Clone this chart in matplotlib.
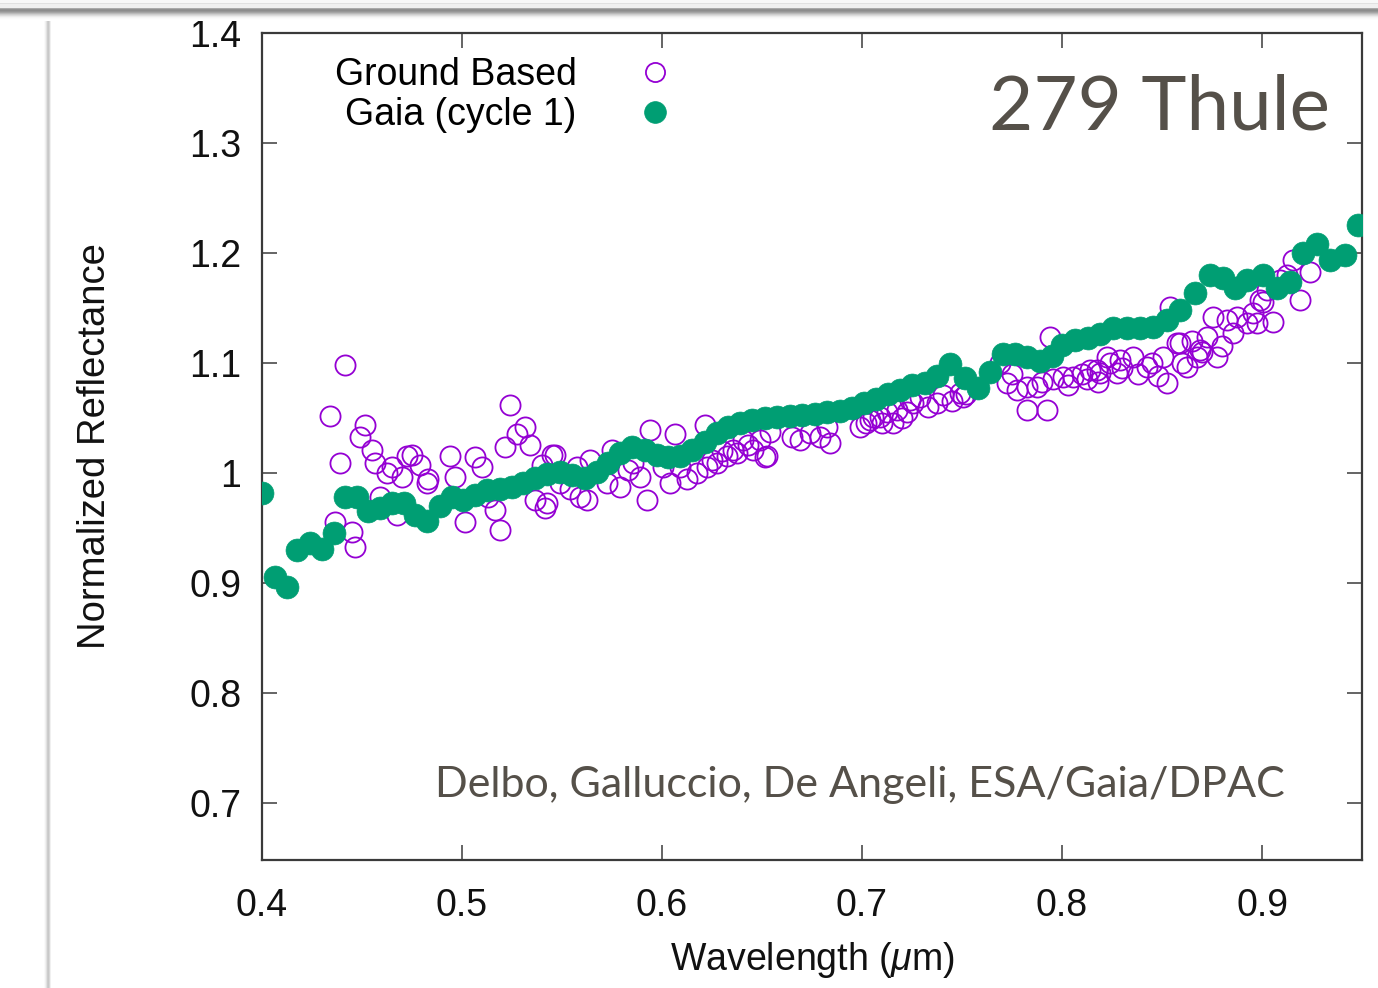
import numpy as np
import matplotlib
matplotlib.use('Agg')
import matplotlib.pyplot as plt

plt.rcParams['font.family'] = ['Liberation Sans', 'DejaVu Sans']
plt.rcParams['mathtext.fontset'] = 'custom'
plt.rcParams['mathtext.it'] = 'Liberation Sans:italic'
plt.rcParams['mathtext.rm'] = 'Liberation Sans'

## Gaia (cycle 1) reflectance
gaia_wl = [0.400, 0.4065, 0.4125, 0.4175, 0.424, 0.430, 0.436, 0.4415, 0.4475, 0.453,
           0.459, 0.465, 0.471, 0.4765, 0.4825, 0.489, 0.495, 0.5005, 0.5065, 0.5125,
           0.519, 0.525, 0.5305, 0.5365, 0.5425, 0.549, 0.555, 0.5615, 0.5675, 0.573,
           0.579, 0.585, 0.5915, 0.5975, 0.603, 0.609, 0.615, 0.6215, 0.6275, 0.633,
           0.639, 0.645, 0.6515, 0.6575, 0.664, 0.670, 0.6765, 0.6825, 0.689, 0.695,
           0.701, 0.707, 0.713, 0.719, 0.725, 0.7315, 0.7375, 0.744, 0.7515, 0.758,
           0.764, 0.7705, 0.7765, 0.7825, 0.789, 0.795, 0.800, 0.8065, 0.813, 0.819,
           0.8255, 0.8325, 0.839, 0.8455, 0.8525, 0.859, 0.8665, 0.874, 0.8805, 0.8865,
           0.8925, 0.9005, 0.9075, 0.914, 0.9205, 0.9275, 0.934, 0.9415, 0.948]
gaia_refl = [0.982, 0.905, 0.896, 0.930, 0.936, 0.931, 0.945, 0.978, 0.978, 0.965,
             0.968, 0.973, 0.973, 0.962, 0.956, 0.970, 0.978, 0.975, 0.980, 0.984,
             0.985, 0.987, 0.991, 0.995, 0.999, 1.001, 0.998, 0.995, 1.001, 1.009,
             1.018, 1.024, 1.021, 1.016, 1.014, 1.015, 1.021, 1.028, 1.036, 1.042,
             1.045, 1.048, 1.050, 1.051, 1.052, 1.053, 1.054, 1.055, 1.056, 1.059,
             1.064, 1.067, 1.072, 1.075, 1.080, 1.082, 1.088, 1.099, 1.086, 1.077,
             1.092, 1.108, 1.108, 1.105, 1.102, 1.106, 1.116, 1.121, 1.123, 1.126,
             1.132, 1.132, 1.132, 1.133, 1.139, 1.148, 1.164, 1.180, 1.177, 1.168,
             1.175, 1.180, 1.168, 1.174, 1.200, 1.208, 1.194, 1.198, 1.225]

## Ground based spectrum
ground_wl = [0.434, 0.4365, 0.439, 0.4415, 0.445, 0.4465, 0.449, 0.4515, 0.455, 0.4565,
             0.459, 0.4625, 0.465, 0.4675, 0.470, 0.4725, 0.475, 0.479, 0.4825, 0.483,
             0.494, 0.4965, 0.5015, 0.5065, 0.510, 0.513, 0.5165, 0.519, 0.5215, 0.524,
             0.5275, 0.5315, 0.534, 0.5365, 0.540, 0.5415, 0.5425, 0.545, 0.5465, 0.549,
             0.554, 0.5575, 0.559, 0.5625, 0.564, 0.5725, 0.575, 0.579, 0.583, 0.5855,
             0.589, 0.5925, 0.594, 0.6005, 0.604, 0.6065, 0.609, 0.6125, 0.6175, 0.6215,
             0.6225, 0.625, 0.6275, 0.630, 0.6325, 0.6355, 0.6375, 0.6405, 0.643, 0.6455,
             0.649, 0.6515, 0.6525, 0.654, 0.665, 0.669, 0.674, 0.679, 0.6825, 0.684,
             0.699, 0.702, 0.704, 0.7055, 0.709, 0.710, 0.7125, 0.7155, 0.7175, 0.720,
             0.7225, 0.724, 0.7255, 0.729, 0.733, 0.7375, 0.7405, 0.745, 0.749, 0.7505,
             0.752, 0.769, 0.7725, 0.775, 0.7775, 0.7825, 0.7825, 0.7875, 0.790, 0.7925,
             0.794, 0.7955, 0.8005, 0.803, 0.8055, 0.810, 0.8125, 0.814, 0.8175, 0.818,
             0.819, 0.8225, 0.824, 0.8275, 0.829, 0.830, 0.8355, 0.838, 0.8425, 0.845,
             0.848, 0.8505, 0.8525, 0.854, 0.8575, 0.859, 0.860, 0.8625, 0.865, 0.8675,
             0.869, 0.870, 0.8725, 0.8755, 0.8775, 0.880, 0.8825, 0.8855, 0.8875, 0.8925,
             0.8955, 0.8975, 0.899, 0.9005, 0.9025, 0.9055, 0.909, 0.9125, 0.9155, 0.919,
             0.924]
ground_refl = [1.052, 0.955, 1.009, 1.098, 0.946, 0.933, 1.033, 1.044, 1.021, 1.009,
               0.978, 1.000, 1.005, 0.962, 0.996, 1.015, 1.016, 1.007, 0.991, 0.994,
               1.015, 0.996, 0.955, 1.014, 1.005, 0.978, 0.966, 0.948, 1.024, 1.062,
               1.035, 1.042, 1.025, 0.975, 1.007, 0.968, 0.973, 1.016, 1.016, 0.991,
               0.985, 1.005, 0.978, 0.975, 1.012, 0.991, 1.021, 0.987, 1.003, 1.009,
               0.996, 0.975, 1.039, 1.005, 0.991, 1.035, 1.005, 0.994, 1.000, 1.044,
               1.005, 1.012, 1.009, 1.020, 1.015, 1.021, 1.018, 1.030, 1.025, 1.021,
               1.030, 1.014, 1.015, 1.037, 1.033, 1.030, 1.036, 1.033, 1.042, 1.027,
               1.042, 1.045, 1.048, 1.051, 1.051, 1.045, 1.055, 1.045, 1.057, 1.050,
               1.055, 1.066, 1.064, 1.069, 1.060, 1.064, 1.071, 1.065, 1.073, 1.069,
               1.072, 1.100, 1.082, 1.090, 1.075, 1.078, 1.057, 1.078, 1.083, 1.057,
               1.124, 1.085, 1.087, 1.080, 1.087, 1.090, 1.085, 1.094, 1.094, 1.083,
               1.091, 1.105, 1.100, 1.091, 1.103, 1.095, 1.105, 1.090, 1.096, 1.100,
               1.088, 1.105, 1.082, 1.151, 1.118, 1.118, 1.100, 1.096, 1.120, 1.105,
               1.112, 1.110, 1.124, 1.142, 1.105, 1.115, 1.139, 1.127, 1.142, 1.136,
               1.145, 1.136, 1.157, 1.155, 1.166, 1.137, 1.175, 1.180, 1.194, 1.157,
               1.183]

purple = '#9400d3'
green = '#009e73'
note_grey = '#555049'

W, H = 1378, 988
fig = plt.figure(figsize=(W / 100, H / 100), dpi=100)
fig.patch.set_facecolor('white')

ax = fig.add_axes([262 / W, 1 - 860 / H, 1100 / W, 827 / H])

ax.plot(ground_wl, ground_refl, linestyle='none', marker='o', ms=14.5,
        mfc='none', mec=purple, mew=1.3, label='Ground Based', zorder=2)
ax.plot(gaia_wl, gaia_refl, linestyle='none', marker='o', ms=16.5,
        mfc=green, mec=green, mew=0.5, label='Gaia (cycle 1)', zorder=3)

ax.set_xlim(0.4, 0.95)
ax.set_ylim(0.648, 1.4)
ax.set_xticks([0.4, 0.5, 0.6, 0.7, 0.8, 0.9])
ax.set_xticklabels(['0.4', '0.5', '0.6', '0.7', '0.8', '0.9'])
ax.set_yticks([0.7, 0.8, 0.9, 1.0, 1.1, 1.2, 1.3, 1.4])
ax.set_yticklabels(['0.7', '0.8', '0.9', '1', '1.1', '1.2', '1.3', '1.4'])

for s in ax.spines.values():
    s.set_color('#3a3a3a')
    s.set_linewidth(1.6)
ax.tick_params(direction='in', length=11, width=1.1, color='#3a3a3a',
               top=True, right=True, labelsize=27, labelcolor='#111111')
ax.tick_params(axis='x', pad=20)
ax.tick_params(axis='y', pad=15)

ax.set_xlabel(r'Wavelength ($\mu$m)', fontsize=27, labelpad=12, color='#111111')
ax.set_ylabel('Normalized Reflectance', fontsize=27.5, labelpad=55, color='#111111')

ax.legend(loc='upper left', bbox_to_anchor=(0.066, 0.971), frameon=False,
          markerfirst=False, fontsize=27, borderpad=0, borderaxespad=0,
          handlelength=1.0, handletextpad=1.6, labelspacing=0.1, markerscale=0.95)

ax.text(0.971, 0.883, '279 Thule', transform=ax.transAxes, ha='right', va='baseline',
        fontsize=55, color=note_grey, family=['Lato', 'DejaVu Sans'])
ax.text(0.930, 0.076, 'Delbo, Galluccio, De Angeli, ESA/Gaia/DPAC', transform=ax.transAxes,
        ha='right', va='baseline', fontsize=31, color=note_grey, family=['Lato', 'DejaVu Sans'])

## screenshot frame: grey band on top and a thin shadow on the left
top_rows = np.array([248, 248, 248, 225, 240, 240, 240, 240, 170, 145, 140, 150,
                     165, 185, 205, 220, 235, 245, 250, 253, 255], dtype=float) / 255
ax_top = fig.add_axes([0, 1 - 21 / H, 1, 21 / H], zorder=10)
ax_top.imshow(np.repeat(top_rows[:, None], 10, axis=1)[:, :, None].repeat(3, axis=2),
              aspect='auto', interpolation='nearest')
ax_top.axis('off')

left_cols = np.array([250, 240, 225, 205, 200, 215, 240, 255], dtype=float) / 255
ax_left = fig.add_axes([44 / W, 0, 8 / W, (H - 20) / H], zorder=9)
ax_left.imshow(np.repeat(left_cols[None, :], 10, axis=0)[:, :, None].repeat(3, axis=2),
               aspect='auto', interpolation='nearest')
ax_left.axis('off')

fig.savefig('out.png', dpi=100)
